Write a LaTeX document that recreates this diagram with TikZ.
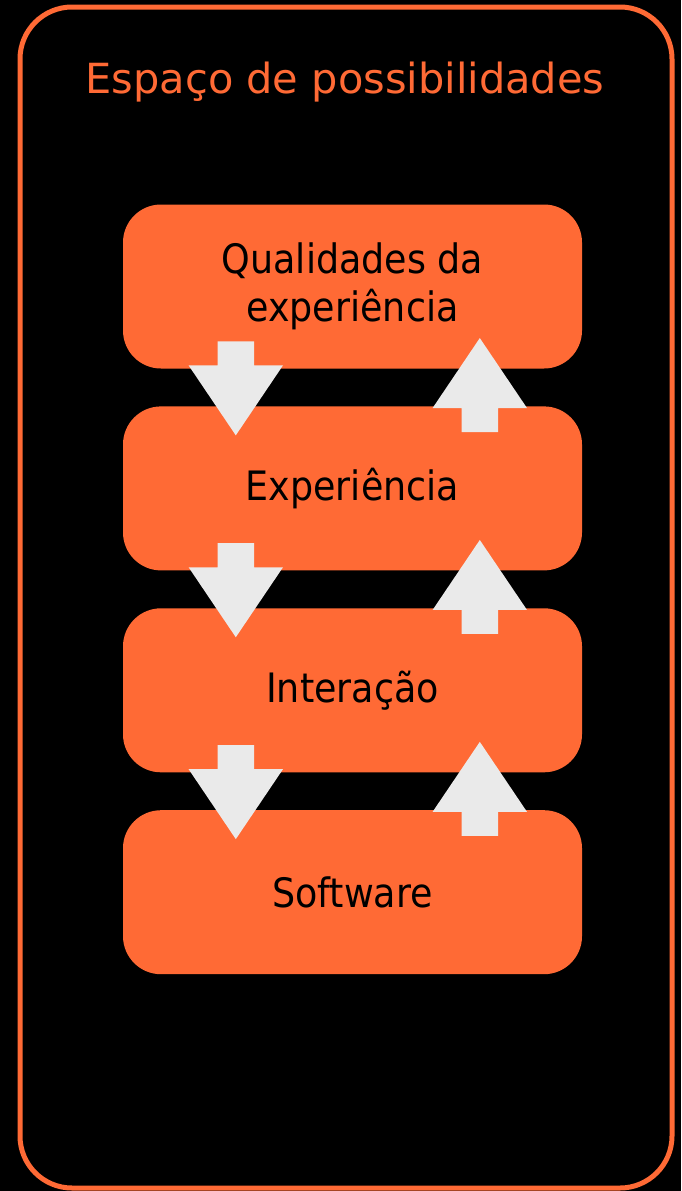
\documentclass[tikz,border=0pt]{standalone}
\usepackage{fontspec}
\setmainfont{DejaVu Sans}
\newfontfamily\layerfont{DejaVu Sans Condensed}
\usetikzlibrary{shapes.arrows,positioning,calc}
\definecolor{pptorange}{HTML}{FF6A35}
\definecolor{arrowgray}{HTML}{EAEAEA}

\begin{document}
\begin{tikzpicture}[x=1pt, y=-1pt,
    space/.style={rectangle, draw=pptorange, line width=5pt, rounded corners=52pt,
                  minimum width=652pt, minimum height=1181pt},
    title/.style={text=pptorange, font=\fontsize{41.5}{48}\selectfont},
    layer/.style={rectangle, rounded corners=38pt, fill=pptorange, text=black,
                  minimum width=459pt, minimum height=164pt, align=center,
                  font=\layerfont\fontsize{40.5}{48}\selectfont},
    blockarrow/.style={single arrow, fill=arrowgray, inner sep=18pt,
                       minimum height=94pt, anchor=tip,
                       single arrow head extend=29pt, single arrow tip angle=68,
                       single arrow head indent=0pt}
]
    \fill[black] (0,0) rectangle (681,1191);
    \useasboundingbox (0,0) rectangle (681,1191);

    % Outer frame and title
    \node[space] (space) at (346,597.5) {};
    \node[title, anchor=base] (title) at (345,93) {Espaço de possibilidades};

    % Layers
    \node[layer] (quali) at (352.5,286.5) {Qualidades da\\experiência};
    \node[layer, below=37.5pt of quali] (exp) {Experiência};
    \node[layer, below=37.5pt of exp] (inter) {Interação};
    \node[layer, below=37.5pt of inter] (soft) {Software};

    % Block arrows between layers
    \foreach \a in {quali,exp,inter} {
        \node[blockarrow, shape border rotate=270] (down-\a) at ($(\a.south west)+(113,67)$) {};
        \node[blockarrow, shape border rotate=90] (up-\a) at ($(\a.south west)+(357,-31)$) {};
    }
\end{tikzpicture}
\end{document}
